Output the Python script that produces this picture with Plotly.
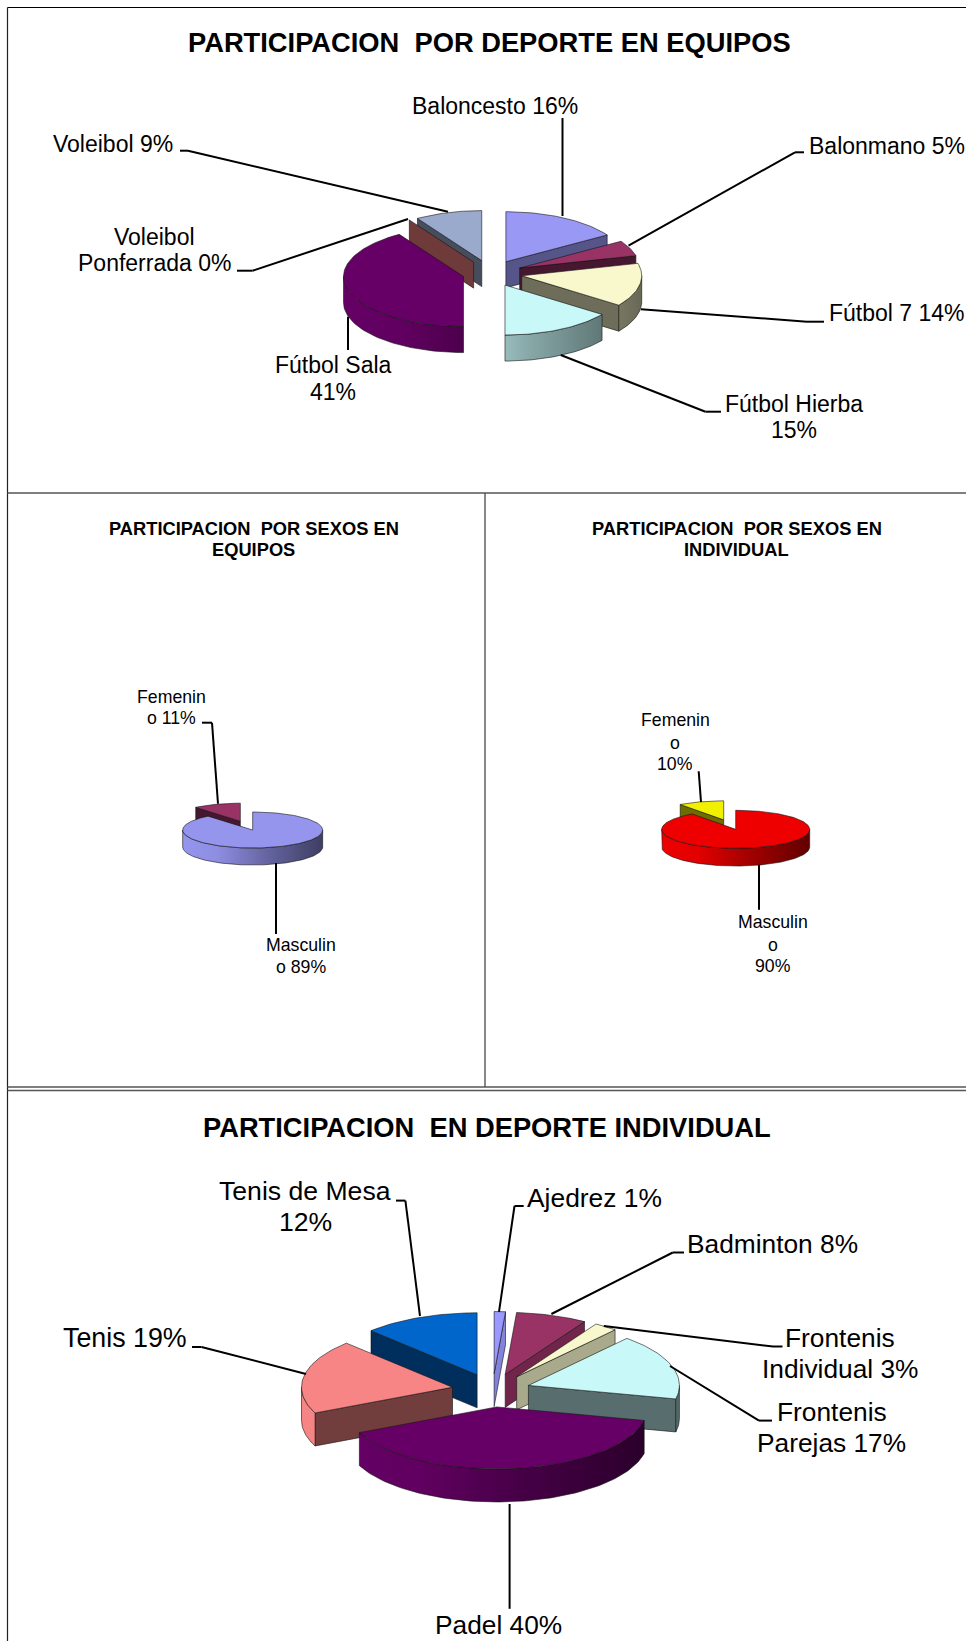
import math
import plotly.graph_objects as go

# ---------- data ----------
equipos_categorias = ["Baloncesto", "Balonmano", "Fútbol 7", "Fútbol Hierba", "Fútbol Sala", "Voleibol Ponferrada", "Voleibol"]
equipos_valores = [16, 5, 14, 15, 41, 0, 9]

sexos_equipos_categorias = ["Masculino", "Femenino"]
sexos_equipos_valores = [89, 11]

sexos_individual_categorias = ["Masculino", "Femenino"]
sexos_individual_valores = [90, 10]

individual_categorias = ["Ajedrez", "Badminton", "Frontenis Individual", "Frontenis Parejas", "Padel", "Tenis", "Tenis de Mesa"]
individual_valores = [1.2, 7.6, 2.5, 17.2, 39.7, 19.4, 12.4]

# ---------- styles ----------
equipos_colores = ["#9999F5", "#993366", "#F8F8CC", "#C8F8F8", "#660066", "#F08080", "#99AACC"]
sexos_equipos_colores = ["#9595EE", "#993366"]
sexos_individual_colores = ["#EE0000", "#F0F000"]
individual_colores = ["#9999FF", "#993366", "#F8F8CC", "#C8F8F8", "#660066", "#F88585", "#0066CC"]

equipos_explosion = [0.264, 0.264, 0.264, 0.264, 0.235, 0.264, 0.264]
sexos_equipos_explosion = [0.26, 0.26]
sexos_individual_explosion = [0.262, 0.262]
individual_explosion = [0.27, 0.27, 0.27, 0.25, 0.27, 0.27, 0.27]

FONT = "Liberation Sans, Arial, sans-serif"
OUTLINE = "rgba(20,20,20,0.75)"


def rgb(hexcol):
    return tuple(int(hexcol[i:i + 2], 16) for i in (1, 3, 5))


def shade(hexcol, f):
    r, g, b = rgb(hexcol)
    return f"rgb({int(r * f)},{int(g * f)},{int(b * f)})"


fig = go.Figure()


def poly(xs, ys, color, name, gradient=None):
    kw = dict(fill="toself", mode="lines", x=xs, y=ys, name=name, text=name,
              hoverinfo="text", showlegend=False,
              line=dict(color=OUTLINE, width=0.8))
    if gradient:
        kw["fillgradient"] = gradient
    else:
        kw["fillcolor"] = color
    fig.add_trace(go.Scatter(**kw))


def pie3d(categorias, valores, colores, explosion, cx, cy, rx, ry, depth):
    total = sum(valores)
    pts = []
    acum = 0
    for cat, val, col, e in zip(categorias, valores, colores, explosion):
        t1 = acum / total * 360
        acum += val
        t2 = acum / total * 360
        pts.append((cat, col, t1, t2, e))
    # painter's order: back slices first
    pts.sort(key=lambda p: -math.cos(math.radians((p[2] + p[3]) / 2)))

    for cat, col, t1, t2, e in pts:
        mid = math.radians((t1 + t2) / 2)
        ax = cx + e * rx * math.sin(mid)
        ay = cy - e * ry * math.cos(mid)

        def ex(t):
            return ax + rx * math.sin(math.radians(t))

        def ey(t):
            return ay - ry * math.cos(math.radians(t))

        def arc(a, b):
            n = max(2, int(abs(b - a) / 1.5) + 2)
            return [a + (b - a) * i / (n - 1) for i in range(n)]

        # radial walls
        if math.sin(math.radians(t1)) < -1e-6:
            poly([ax, ex(t1), ex(t1), ax, ax], [ay, ey(t1), ey(t1) + depth, ay + depth, ay],
                 shade(col, 0.46), cat)
        if math.sin(math.radians(t2)) > 1e-6:
            c = math.cos(math.radians(t2))
            f = 0.44 + 0.42 * c * c if c > 0 else 0.44
            poly([ax, ex(t2), ex(t2), ax, ax], [ay, ey(t2), ey(t2) + depth, ay + depth, ay],
                 shade(col, f), cat)
        # outer curved wall
        a, b = max(t1, 90), min(t2, 270)
        if b > a:
            ts = arc(a, b)
            xs = [ex(t) for t in ts] + [ex(t) for t in reversed(ts)]
            ys = [ey(t) for t in ts] + [ey(t) + depth for t in reversed(ts)]
            grad = dict(type="horizontal", start=ax - rx, stop=ax + rx,
                        colorscale=[[0, shade(col, 1.0)], [0.25, shade(col, 0.95)],
                                    [0.6, shade(col, 0.68)], [1, shade(col, 0.42)]])
            poly(xs + xs[:1], ys + ys[:1], col, cat, gradient=grad)
        # top face
        if t2 > t1:
            ts = arc(t1, t2)
            poly([ax] + [ex(t) for t in ts] + [ax], [ay] + [ey(t) for t in ts] + [ay], col,
                 f"{cat}")


pie3d(equipos_categorias, equipos_valores, equipos_colores, equipos_explosion, 490.6, 273.3, 120, 50, 26)
pie3d(sexos_equipos_categorias, sexos_equipos_valores, sexos_equipos_colores, sexos_equipos_explosion, 246.5, 825.6, 70, 18, 17)
pie3d(sexos_individual_categorias, sexos_individual_valores, sexos_individual_colores, sexos_individual_explosion, 729.7, 824.6, 74, 19, 17.7)
pie3d(individual_categorias, individual_valores, individual_colores, individual_explosion, 492.6, 1390.3, 151, 62, 33)

# ---------- leader lines (page layout) ----------
leaders = [
    [(562.5, 118), (562.5, 216)],
    [(180, 150.7), (188, 150.7), (448, 211.7)],
    [(237, 270.7), (252.6, 270.7), (408, 219)],
    [(804, 152.3), (795, 152.3), (628.5, 245.7)],
    [(824, 321.7), (807, 321.7), (641, 309.3)],
    [(721, 411.7), (705.5, 411.7), (560.7, 355)],
    [(348, 350), (348, 316.7)],
    [(202, 722.7), (212, 722.7), (218, 803.8)],
    [(276, 934), (276, 863)],
    [(698.7, 771.3), (701, 802)],
    [(759, 909.8), (759, 865)],
    [(396, 1200.6), (405.4, 1200.6), (420, 1316)],
    [(523.7, 1206), (514.5, 1206), (499, 1311.8)],
    [(684, 1252.5), (672.8, 1252.5), (551.4, 1314)],
    [(782.5, 1346.5), (773, 1346.5), (603.8, 1326)],
    [(772, 1420.6), (759, 1420.6), (670, 1366)],
    [(192, 1347), (201.5, 1347), (306, 1374)],
    [(509.6, 1608.8), (509.6, 1504)],
]
shapes = []
for path in leaders:
    for (x0, y0), (x1, y1) in zip(path, path[1:]):
        shapes.append(dict(type="line", xref="x", yref="y", x0=x0, y0=y0, x1=x1, y1=y1,
                           line=dict(color="#000000", width=2), layer="above"))

# ---------- panel frames ----------
frames = [
    (7.5, 7.5, 966, 7.5, "#000000", 1.2),
    (7.5, 7.5, 7.5, 1641, "#222222", 1.2),
    (7.5, 493, 966, 493, "#555555", 1.6),
    (485, 493, 485, 1087, "#555555", 1.4),
    (7.5, 1087, 966, 1087, "#555555", 1.6),
    (7.5, 1090.5, 966, 1090.5, "#555555", 1.6),
]
for x0, y0, x1, y1, c, w in frames:
    shapes.append(dict(type="line", xref="x", yref="y", x0=x0, y0=y0, x1=x1, y1=y1,
                       line=dict(color=c, width=w), layer="above"))

# ---------- texts: (text, x centre, y centre, size, bold) ----------
SP = "\u00a0 "
texts = [
    (f"PARTICIPACION{SP}POR DEPORTE EN EQUIPOS", 489, 42.3, 27.3, True),
    ("Baloncesto 16%", 495, 106, 23, False),
    ("Voleibol 9%", 113.4, 144, 23, False),
    ("Voleibol", 154, 236.7, 23, False),
    ("Ponferrada 0%", 154, 263.3, 23, False),
    ("Fútbol Sala", 333, 365, 23, False),
    ("41%", 333, 391.7, 23, False),
    ("Balonmano 5%", 886.6, 145.7, 23, False),
    ("Fútbol 7 14%", 897, 313, 23, False),
    ("Fútbol Hierba", 794, 404, 23, False),
    ("15%", 794, 430, 23, False),
    (f"PARTICIPACION{SP}POR SEXOS EN", 253.5, 528, 18.3, True),
    ("EQUIPOS", 253.5, 549, 18.3, True),
    (f"PARTICIPACION{SP}POR SEXOS EN", 736.5, 528, 18.3, True),
    ("INDIVIDUAL", 736.5, 549, 18.3, True),
    ("Femenin", 171.3, 696.7, 17.7, False),
    ("o 11%", 171.3, 718, 17.7, False),
    ("Masculin", 301, 945.4, 17.7, False),
    ("o 89%", 301, 967, 17.7, False),
    ("Femenin", 675, 719.6, 17.7, False),
    ("o", 675, 742.6, 17.7, False),
    ("10%", 675, 764.4, 17.7, False),
    ("Masculin", 773, 921.7, 17.7, False),
    ("o", 773, 944.6, 17.7, False),
    ("90%", 773, 966, 17.7, False),
    (f"PARTICIPACION{SP}EN DEPORTE INDIVIDUAL", 487.4, 1127.3, 27.3, True),
    ("Tenis de Mesa", 305, 1191, 26.6, False),
    ("12%", 305, 1222.4, 26.6, False),
    ("Ajedrez 1%", 594.6, 1198, 26.4, False),
    ("Badminton 8%", 772.6, 1243.5, 26.3, False),
    ("Frontenis", 840.4, 1337.6, 26.3, False),
    ("Individual 3%", 840.4, 1368.7, 26.3, False),
    ("Frontenis", 831.8, 1411.7, 26.3, False),
    ("Parejas 17%", 831.8, 1443, 26.3, False),
    ("Tenis 19%", 125, 1338, 26.8, False),
    ("Padel 40%", 498, 1625, 26.3, False),
]
annotations = [
    dict(text=f"<b>{t}</b>" if b else t, x=x, y=y, xref="x", yref="y", xanchor="center",
         yanchor="middle", showarrow=False, align="center",
         font=dict(family=FONT, size=s, color="#000000"))
    for t, x, y, s, b in texts
]

fig.update_layout(
    width=966, height=1641, margin=dict(l=0, r=0, t=0, b=0),
    paper_bgcolor="white", plot_bgcolor="white", showlegend=False,
    xaxis=dict(range=[0, 966], visible=False, fixedrange=True),
    yaxis=dict(range=[1641, 0], visible=False, fixedrange=True),
    shapes=shapes, annotations=annotations,
)
fig.write_html("out.html", config=dict(displayModeBar=False),
               post_script="document.body.style.margin='0';document.documentElement.style.overflow='hidden';")
